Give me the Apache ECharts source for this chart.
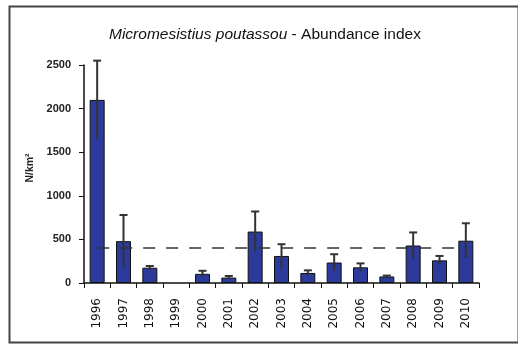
<!DOCTYPE html>
<html>
<head>
<meta charset="utf-8">
<script src="https://cdn.jsdelivr.net/npm/echarts@6/dist/echarts.min.js"></script>
<style>html,body{margin:0;padding:0;background:#fff}#c{width:518px;height:344px}</style>
</head>
<body>
<div id="c"></div>
<script>
var years = ['1996','1997','1998','1999','2000','2001','2002','2003','2004','2005','2006','2007','2008','2009','2010'];
var abundance = [2100, 480, 175, null, 105, 62, 590, 310, 115, 235, 180, 75, 430, 260, 485];
var errors = [450, 300, 20, null, 35, 18, 230, 135, 30, 95, 45, 10, 150, 50, 200];
var meanLevel = 400;
var yTicks = [0, 500, 1000, 1500, 2000, 2500];

var chart = echarts.init(document.getElementById('c'));
var errData = years.map(function (y, i) { return [i, abundance[i], errors[i]]; });
var meanData = years.map(function () { return meanLevel; });

chart.setOption({
  animation: false,
  title: {
    text: '{i|Micromesistius poutassou}{n| - Abundance index}',
    left: 104, top: 22,
    textStyle: {
      rich: {
        i: { fontStyle: 'italic', fontWeight: 'normal', fontSize: 15.5, fontFamily: 'Liberation Sans', color: '#111' },
        n: { fontWeight: 'normal', fontSize: 15.5, fontFamily: 'Liberation Sans', color: '#111' }
      }
    }
  },
  graphic: [{
    type: 'rect', left: 7, top: 4, shape: { width: 509, height: 336 },
    style: { fill: 'none', stroke: '#444', lineWidth: 2 }, silent: true
  }],
  grid: { left: 84, right: 39, top: 65, bottom: 61, containLabel: false },
  xAxis: {
    type: 'category', data: years, boundaryGap: true,
    axisLine: { lineStyle: { color: '#111', width: 1.5 } },
    axisTick: { show: true, alignWithLabel: false, length: 5, lineStyle: { color: '#111' } },
    axisLabel: { rotate: 90, margin: 15, fontSize: 12, fontWeight: 'normal', fontFamily: 'DejaVu Sans', color: '#111', interval: 0 }
  },
  yAxis: {
    type: 'value', min: 0, max: 2500, interval: 500,
    name: 'N/km²', nameLocation: 'middle', nameRotate: 90, nameGap: 47,
    nameTextStyle: { fontSize: 10.5, fontWeight: 'bold', fontFamily: 'Liberation Sans', color: '#222', padding: [0, 0, 0, 12] },
    axisLine: { show: true, lineStyle: { color: '#111', width: 1.5 } },
    axisTick: { show: true, length: 5, lineStyle: { color: '#111' } },
    splitLine: { show: false },
    axisLabel: {
      margin: 13, fontSize: 11, fontWeight: 'bold', fontFamily: 'Liberation Sans', color: '#222',
      formatter: function (v) { return yTicks.indexOf(v) >= 0 ? String(v) : ''; }
    }
  },
  series: [
    {
      type: 'bar', data: abundance, barWidth: 15,
      itemStyle: { color: '#2c3a9c', borderColor: '#111', borderWidth: 1 }
    },
    {
      type: 'line', data: meanData, symbol: 'none', silent: true, z: 5,
      lineStyle: { color: '#333', width: 1.5, type: [12, 11] }
    },
    {
      type: 'custom', data: errData, z: 6, silent: true,
      renderItem: function (params, api) {
        var v = api.value(1), e = api.value(2);
        if (v == null || isNaN(v) || e == null || isNaN(e)) return;
        var x = api.value(0);
        var top = api.coord([x, v + e]);
        var bot = api.coord([x, Math.max(v - e, 0)]);
        var style = { stroke: '#333', lineWidth: 2 };
        return {
          type: 'group',
          children: [
            { type: 'line', shape: { x1: top[0], y1: top[1], x2: bot[0], y2: bot[1] }, style: style },
            { type: 'line', shape: { x1: top[0] - 4, y1: top[1], x2: top[0] + 4, y2: top[1] }, style: style }
          ]
        };
      }
    }
  ]
});
</script>
</body>
</html>
